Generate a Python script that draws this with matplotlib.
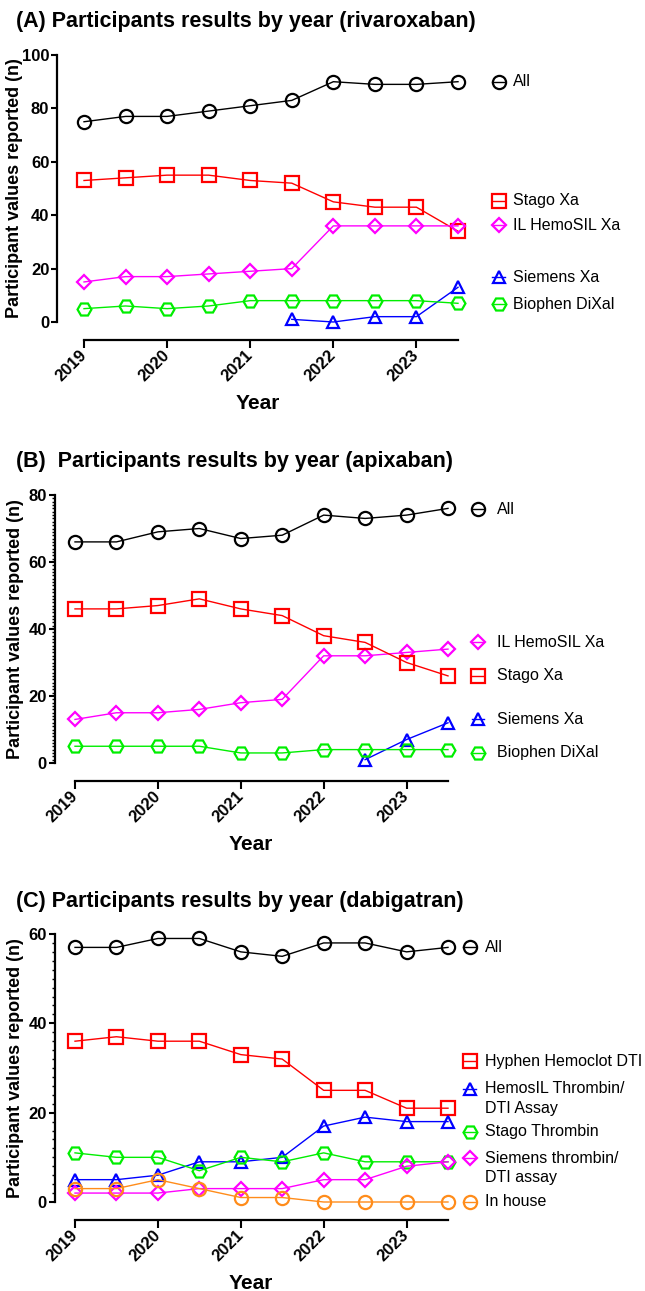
import numpy as np
import matplotlib
matplotlib.use("Agg")
import matplotlib.pyplot as plt
from matplotlib.ticker import MultipleLocator, FixedLocator

# ---------------- data ----------------
periods = [2019.0, 2019.5, 2020.0, 2020.5, 2021.0, 2021.5, 2022.0, 2022.5, 2023.0, 2023.5]
year_ticks = [2019, 2020, 2021, 2022, 2023]
nan = np.nan

# (A) rivaroxaban
riva_all = [75, 77, 77, 79, 81, 83, 90, 89, 89, 90]
riva_stago = [53, 54, 55, 55, 53, 52, 45, 43, 43, 34]
riva_il = [15, 17, 17, 18, 19, 20, 36, 36, 36, 36]
riva_siemens = [nan, nan, nan, nan, nan, 1, 0, 2, 2, 13]
riva_biophen = [5, 6, 5, 6, 8, 8, 8, 8, 8, 7]

# (B) apixaban
apix_all = [66, 66, 69, 70, 67, 68, 74, 73, 74, 76]
apix_stago = [46, 46, 47, 49, 46, 44, 38, 36, 30, 26]
apix_il = [13, 15, 15, 16, 18, 19, 32, 32, 33, 34]
apix_siemens = [nan, nan, nan, nan, nan, nan, nan, 1, 7, 12]
apix_biophen = [5, 5, 5, 5, 3, 3, 4, 4, 4, 4]

# (C) dabigatran
dabi_all = [57, 57, 59, 59, 56, 55, 58, 58, 56, 57]
dabi_hyphen = [36, 37, 36, 36, 33, 32, 25, 25, 21, 21]
dabi_hemosil = [5, 5, 6, 9, 9, 10, 17, 19, 18, 18]
dabi_stago = [11, 10, 10, 7, 10, 9, 11, 9, 9, 9]
dabi_siemens = [2, 2, 2, 3, 3, 3, 5, 5, 8, 9]
dabi_inhouse = [3, 3, 5, 3, 1, 1, 0, 0, 0, 0]

titles = ["(A) Participants results by year (rivaroxaban)",
          "(B)  Participants results by year (apixaban)",
          "(C) Participants results by year (dabigatran)"]
ylabel = "Participant values reported (n)"
xlabel = "Year"

# ---------------- style ----------------
plt.rcParams["font.family"] = ["Liberation Sans", "DejaVu Sans"]

BLACK, RED, MAG, BLUE, GREEN, ORANGE = "#000000", "#ff0000", "#ff00ff", "#0000ff", "#00ee00", "#ff8c1a"
MK = {"o": 9.5, "s": 9.5, "D": 7.2, "^": 9.0, "H": 10.0}

W, H = 645, 1291
fig = plt.figure(figsize=(W / 100, H / 100), dpi=100)


def px_axes(left, right, top, bottom):
    return fig.add_axes([left / W, 1 - bottom / H, (right - left) / W, (bottom - top) / H])


def draw_panel(ax, series, ymax, major, minor, leg_y, mx, tx, title, title_y, ylab_x):
    for s in ["top", "right"]:
        ax.spines[s].set_visible(False)
    ax.spines["left"].set_linewidth(1.6)
    ax.spines["bottom"].set_linewidth(1.6)
    ax.spines["bottom"].set_position(("outward", 13))
    ax.spines["bottom"].set_bounds(2019, 2023.5)

    for lab, vals, col, mk in series:
        ax.plot(periods, vals, color=col, lw=1.0, marker=mk, ms=MK[mk],
                mfc="none", mec=col, mew=1.6, clip_on=False, zorder=3)
    ax.set_ylim(0, ymax)
    ax.yaxis.set_major_locator(MultipleLocator(major))
    if minor:
        ax.yaxis.set_minor_locator(MultipleLocator(minor))
    ax.xaxis.set_major_locator(FixedLocator(year_ticks))
    ax.set_xticklabels([str(y) for y in year_ticks])
    for t in ax.get_xticklabels():
        t.set_rotation(45)
        t.set_ha("right")
        t.set_va("center")
        t.set_rotation_mode("anchor")
        t.set_fontweight("bold")
        t.set_fontsize(12)
    for t in ax.get_yticklabels():
        t.set_fontweight("bold")
        t.set_fontsize(12)
    ax.tick_params(axis="y", which="major", length=4.5, width=1.5, pad=1)
    ax.tick_params(axis="y", which="minor", length=2.5, width=1.0)
    ax.tick_params(axis="x", which="major", length=6, width=1.5, pad=3)
    ax.set_ylabel(ylabel, fontweight="bold", fontsize=13, va="center")
    ax.set_xlabel(xlabel, fontweight="bold", fontsize=15, va="center")
    ax.xaxis.set_label_coords(0.5, -0.305)
    ax.yaxis.set_label_coords(ylab_x, 0.5)
    tr = ax.get_yaxis_transform()
    for (lab, vals, col, mk), ly in zip(series, leg_y):
        ax.plot([mx - 0.016, mx + 0.016], [ly, ly], color=col, lw=1.0, transform=tr, clip_on=False)
        ax.plot([mx], [ly], marker=mk, ms=MK[mk], mfc="none", mec=col, mew=1.6,
                transform=tr, clip_on=False, ls="none")
        for i, line in enumerate(lab.split("\n")):
            ax.annotate(line, xy=(tx, ly), xycoords=tr, xytext=(0, -14 * i),
                        textcoords="offset points", va="center", ha="left", fontsize=11.5)
    fig.text(16 / W, 1 - title_y / H, title, fontsize=15.5, fontweight="bold", va="center", ha="left")


# Panel A
axA = px_axes(57, 458, 55, 322)
axA.set_xlim(2019 - 27 / 83.1, 2023.5)
seriesA = [("All", riva_all, BLACK, "o"), ("Stago Xa", riva_stago, RED, "s"),
           ("IL HemoSIL Xa", riva_il, MAG, "D"), ("Siemens Xa", riva_siemens, BLUE, "^"),
           ("Biophen DiXal", riva_biophen, GREEN, "H")]
draw_panel(axA, seriesA, 100, 20, None, [90, 45.5, 36.2, 16.8, 6.7], 1.102, 1.137,
           titles[0], 22, -0.105)

# Panel B
axB = px_axes(54.5, 448, 495, 763)
axB.set_xlim(2019 - 20.5 / 82.9, 2023.5)
seriesB = [("All", apix_all, BLACK, "o"), ("IL HemoSIL Xa", apix_il, MAG, "D"),
           ("Stago Xa", apix_stago, RED, "s"), ("Siemens Xa", apix_siemens, BLUE, "^"),
           ("Biophen DiXal", apix_biophen, GREEN, "H")]
draw_panel(axB, seriesB, 80, 20, 1, [75.8, 36.1, 26, 13.1, 3], 1.076, 1.125,
           titles[1], 462, -0.10)

# Panel C
axC = px_axes(54.5, 448, 934, 1202)
axC.set_xlim(2019 - 20.5 / 82.9, 2023.5)
seriesC = [("All", dabi_all, BLACK, "o"), ("Hyphen Hemoclot DTI", dabi_hyphen, RED, "s"),
           ("HemosIL Thrombin/\nDTI Assay", dabi_hemosil, BLUE, "^"),
           ("Stago Thrombin", dabi_stago, GREEN, "H"),
           ("Siemens thrombin/\nDTI assay", dabi_siemens, MAG, "D"),
           ("In house", dabi_inhouse, ORANGE, "o")]
draw_panel(axC, seriesC, 60, 20, 2, [57, 31.5, 25.3, 15.7, 9.8, 0], 1.055, 1.093,
           titles[2], 902, -0.10)

fig.savefig("out.png", dpi=100)
